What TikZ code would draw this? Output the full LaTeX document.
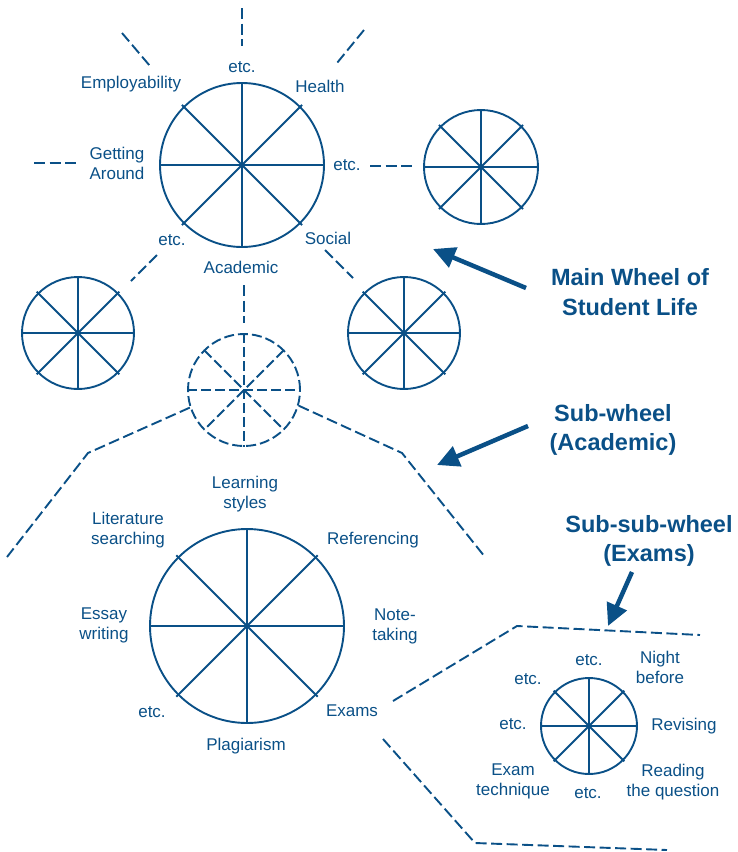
\documentclass[tikz,border=0pt]{standalone}
\usepackage{fontspec}
\setmainfont{Liberation Sans}
\usetikzlibrary{arrows.meta}
\definecolor{wb}{RGB}{10,80,135}
\newcommand{\wspokes}[3][]{%
  \draw[#1] (#2.north) -- (#2.south);
  \draw[#1] (#2.west) -- (#2.east);
  \draw[#1] (#2.center) ++(45:#3) -- ++(225:{2*#3});
  \draw[#1] (#2.center) ++(135:#3) -- ++(315:{2*#3});
}
\begin{document}
\begin{tikzpicture}[x=1pt,y=-1pt, line width=1.9pt, draw=wb, text=wb,
  lbl/.style={font=\fontsize{17}{20}\selectfont, align=center, inner sep=0pt, text=wb},
  big/.style={font=\fontsize{23.5}{29.5}\selectfont\bfseries, align=center, inner sep=0pt, text=wb},
  wheel/.style={circle, draw=wb, inner sep=0pt, line width=1.9pt},
  dwheel/.style={wheel, dash pattern=on 10pt off 4pt},
  stub/.style={draw=wb, dash pattern=on 11pt off 4.5pt, line width=1.9pt},
  dsp/.style={dash pattern=on 10pt off 4pt},
  ptr/.style={draw=wb, line width=4.5pt, -{Triangle[length=22pt,width=21pt]}}]
\useasboundingbox (0,0) rectangle (737,852);

% wheels
\node[wheel, minimum size=164pt] (main) at (242,165) {};
\node[wheel, minimum size=114pt] (wR) at (481,167) {};
\node[wheel, minimum size=112pt] (wL) at (78,333) {};
\node[wheel, minimum size=112pt] (wM) at (404,333) {};
\node[dwheel, minimum size=112pt] (sub) at (244,390) {};
\node[wheel, minimum size=194pt] (acad) at (247,626) {};
\node[wheel, minimum size=96pt] (exam) at (589,726) {};

\wspokes{main}{85pt}
\wspokes{wR}{59.5pt}
\wspokes{wL}{58.5pt}
\wspokes{wM}{58.5pt}
\wspokes[dsp]{sub}{56pt}
\wspokes{acad}{100pt}
\wspokes{exam}{50pt}

% stubs around main wheel
\coordinate (t1) at (242,8);   \coordinate (t2) at (242,46);
\coordinate (nw1) at (122,33); \coordinate (nw2) at (150,66);
\coordinate (ne1) at (364,30); \coordinate (ne2) at (337,63);
\coordinate (w1) at (34,163);  \coordinate (w2) at (77,163);
\coordinate (e1) at (370,166); \coordinate (e2) at (412,166);
\coordinate (sw1) at (157,255); \coordinate (sw2) at (131,281);
\coordinate (se1) at (325,250); \coordinate (se2) at (353,278);
\coordinate (s1) at (244,285); \coordinate (s2) at (244,323);
\draw[stub] (t1) -- (t2);
\draw[stub] (nw1) -- (nw2);
\draw[stub] (ne1) -- (ne2);
\draw[stub] (w1) -- (w2);
\draw[stub] (e1) -- (e2);
\draw[stub] (sw1) -- (sw2);
\draw[stub] (se1) -- (se2);
\draw[stub] (s1) -- (s2);

% sub-wheel expansion lines
\coordinate (sl1) at (88,453); \coordinate (sl2) at (7,557);
\coordinate (sr1) at (402,453); \coordinate (sr2) at (485,557);
\draw[stub] (sub.198) -- (sl1) -- (sl2);
\draw[stub] (sub.344) -- (sr1) -- (sr2);

% exam expansion lines
\coordinate (ea0) at (393,701); \coordinate (ea1) at (517,626); \coordinate (ea2) at (700,635);
\coordinate (eb0) at (383,739); \coordinate (eb1) at (475,843); \coordinate (eb2) at (667,850);
\draw[stub] (ea0) -- (ea1) -- (ea2);
\draw[stub] (eb0) -- (eb1) -- (eb2);

% main labels
\node[lbl] (m1) at (242,67) {etc.};
\node[lbl] (m2) at (320,86) {Health};
\node[lbl] (m3) at (131,84) {Employability};
\node[lbl] (m4) at (117,163) {Getting\\Around};
\node[lbl] (m5) at (347,165) {etc.};
\node[lbl] (m6) at (328,238) {Social};
\node[lbl] (m7) at (241,267) {Academic};
\node[lbl] (m8) at (172,240) {etc.};

% academic labels
\node[lbl] (a1) at (245,494) {Learning\\styles};
\node[lbl] (a2) at (128,530) {Literature\\searching};
\node[lbl] (a3) at (373,540) {Referencing};
\node[lbl] (a4) at (104,625) {Essay\\writing};
\node[lbl] (a5) at (395,626) {Note-\\taking};
\node[lbl] (a6) at (152,712) {etc.};
\node[lbl] (a7) at (246,746) {Plagiarism};
\node[lbl] (a8) at (352,711) {Exams};

% exam labels
\node[lbl] (x1) at (589,660) {etc.};
\node[lbl] (x2) at (660,667) {Night\\before};
\node[lbl] (x3) at (528,679) {etc.};
\node[lbl] (x4) at (513,724) {etc.};
\node[lbl] (x5) at (684,726) {Revising};
\node[lbl] (x6) at (513,781) {Exam\\technique};
\node[lbl] (x7) at (588,793) {etc.};
\node[lbl] (x8) at (673,782) {Reading\\the question};

% big captions and pointers
\node[big] (c1) at (630,292) {Main Wheel of\\Student Life};
\node[big] (c2) at (613,430) {Sub-wheel\\(Academic)};
\node[big] (c3) at (649,541) {Sub-sub-wheel\\(Exams)};
\coordinate (p1) at (526,288); \coordinate (q1) at (433,249);
\coordinate (p2) at (528,426); \coordinate (q2) at (437,465);
\coordinate (p3) at (632,572); \coordinate (q3) at (608,626);
\draw[ptr] (p1) -- (q1);
\draw[ptr] (p2) -- (q2);
\draw[ptr] (p3) -- (q3);
\end{tikzpicture}
\end{document}
